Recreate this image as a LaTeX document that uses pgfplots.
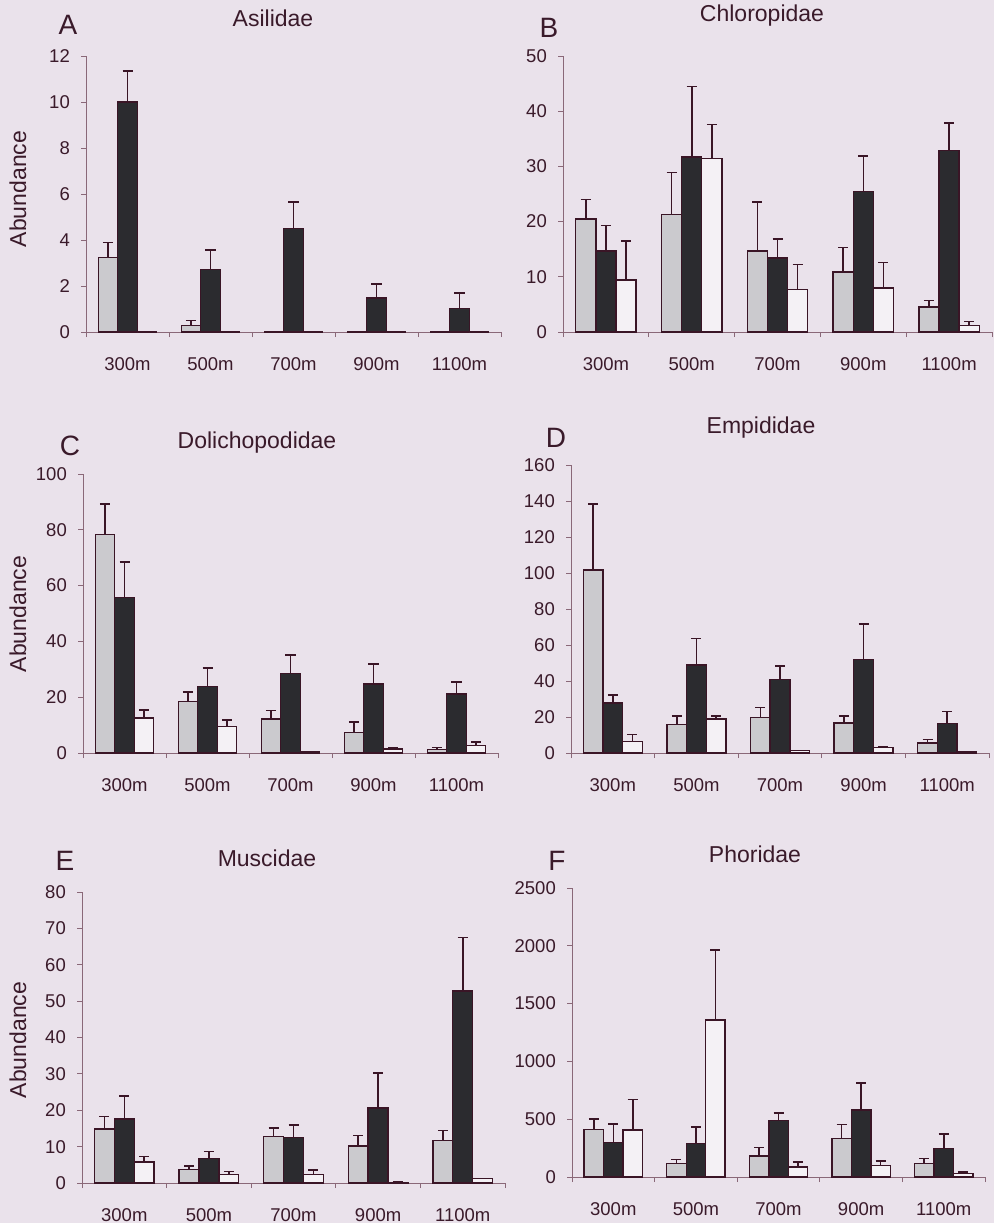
\documentclass[border=0pt]{standalone}
\usepackage{pgfplots}
\pgfplotsset{compat=1.18}
\usepackage{fontspec}
\setmainfont{Liberation Sans}
\definecolor{bgcol}{HTML}{EAE2EB}
\definecolor{txtcol}{HTML}{3A1A2A}
\definecolor{axcol}{HTML}{8A6878}
\definecolor{edgecol}{HTML}{3A1526}
\definecolor{greybar}{HTML}{CBCACE}
\definecolor{blackbar}{HTML}{2B2B2F}
\definecolor{whitebar}{HTML}{F4F1F5}
\newcommand{\tickfont}{\fontsize{18.5bp}{22bp}\selectfont}
\newcommand{\titlefont}{\fontsize{23bp}{27bp}\selectfont}
\newcommand{\letterfont}{\fontsize{28bp}{32bp}\selectfont}
\pgfplotsset{
  panel/.style={
    scale only axis,
    axis lines*=left,
    axis line style={draw=axcol, line width=0.9bp},
    xmin=-0.5, xmax=4.5, ymin=0,
    xtick={0,1,2,3,4},
    xticklabels={300m,500m,700m,900m,1100m},
    major x tick style={draw=none},
    minor xtick={-0.5,0.5,1.5,2.5,3.5,4.5},
    minor x tick style={draw=axcol, line width=0.9bp},
    major y tick style={draw=axcol, line width=0.9bp},
    tick align=outside,
    major tick length=5bp, minor tick length=5bp,
    tick label style={font=\tickfont, text=txtcol},
    /pgf/number format/assume math mode=true,
    /pgf/number format/1000 sep={},
    yticklabel style={inner sep=0pt, xshift=-11bp},
    xticklabel style={inner sep=0pt, yshift=-20bp},
    clip=false,
  },
  barbase/.style={ybar, bar width=0.235, bar shift=0, draw=edgecol, line width=1.4bp,
    error bars/.cd, y dir=plus, y explicit, error mark=|,
    error bar style={line width=1.6bp, draw=edgecol},
    error mark options={line width=1.6bp, draw=edgecol, mark size=5bp}},
  gbar/.style={fill=greybar, barbase},
  kbar/.style={fill=blackbar, barbase},
  wbar/.style={fill=whitebar, barbase},
}
\begin{document}
\begin{tikzpicture}
\fill[bgcol] (0,0) rectangle (994bp,-1223bp);

% ---------- A: Asilidae ----------
\begin{axis}[panel, at={(86bp,-332bp)}, anchor=south west, width=415bp, height=276bp,
  ymax=12, ytick={0,2,4,6,8,10,12}]
\addplot[gbar] coordinates {(-0.235,3.24) +- (0,0.66) (0.765,0.29) +- (0,0.21) (1.765,0.02) +- (0,0) (2.765,0.02) +- (0,0) (3.765,0.02) +- (0,0)};
\addplot[kbar] coordinates {(0,10.0) +- (0,1.36) (1,2.73) +- (0,0.84) (2,4.49) +- (0,1.17) (3,1.48) +- (0,0.62) (4,1.01) +- (0,0.68)};
\addplot[wbar] coordinates {(0.235,0) +- (0,0) (1.235,0) +- (0,0) (2.235,0) +- (0,0) (3.235,0) +- (0,0) (4.235,0) +- (0,0)};
\end{axis}

% ---------- B: Chloropidae ----------
\begin{axis}[panel, at={(563bp,-332bp)}, anchor=south west, width=429bp, height=276bp,
  ymax=50, ytick={0,10,20,30,40,50}]
\addplot[gbar] coordinates {(-0.235,20.5) +- (0,3.5) (0.765,21.3) +- (0,7.6) (1.765,14.7) +- (0,8.9) (2.765,10.9) +- (0,4.4) (3.765,4.5) +- (0,1.2)};
\addplot[kbar] coordinates {(0,14.7) +- (0,4.6) (1,31.7) +- (0,12.8) (2,13.4) +- (0,3.5) (3,25.5) +- (0,6.4) (4,32.9) +- (0,5.0)};
\addplot[wbar] coordinates {(0.235,9.4) +- (0,7.1) (1.235,31.4) +- (0,6.2) (2.235,7.7) +- (0,4.5) (3.235,8.0) +- (0,4.6) (4.235,1.2) +- (0,0.7)};
\end{axis}

% ---------- C: Dolichopodidae ----------
\begin{axis}[panel, at={(83bp,-753bp)}, anchor=south west, width=415bp, height=279bp,
  ymax=100, ytick={0,20,40,60,80,100}]
\addplot[gbar] coordinates {(-0.235,78.3) +- (0,11.0) (0.765,18.4) +- (0,3.4) (1.765,12.2) +- (0,3.0) (2.765,7.4) +- (0,3.8) (3.765,1.2) +- (0,0.8)};
\addplot[kbar] coordinates {(0,55.7) +- (0,12.8) (1,23.9) +- (0,6.5) (2,28.6) +- (0,6.5) (3,24.8) +- (0,7.1) (4,21.1) +- (0,4.3)};
\addplot[wbar] coordinates {(0.235,12.5) +- (0,3.0) (1.235,9.5) +- (0,2.4) (2.235,0.3) +- (0,0) (3.235,1.4) +- (0,0.4) (4.235,2.7) +- (0,1.2)};
\end{axis}

% ---------- D: Empididae ----------
\begin{axis}[panel, at={(571bp,-753bp)}, anchor=south west, width=418bp, height=288bp,
  ymax=160, ytick={0,20,40,60,80,100,120,140,160}]
\addplot[gbar] coordinates {(-0.235,101.6) +- (0,36.6) (0.765,15.7) +- (0,5.0) (1.765,19.8) +- (0,5.5) (2.765,16.6) +- (0,4.1) (3.765,5.5) +- (0,1.9)};
\addplot[kbar] coordinates {(0,27.7) +- (0,4.5) (1,49.0) +- (0,14.6) (2,40.7) +- (0,7.8) (3,52.0) +- (0,19.6) (4,16.3) +- (0,6.8)};
\addplot[wbar] coordinates {(0.235,6.5) +- (0,3.7) (1.235,18.9) +- (0,1.8) (2.235,1.5) +- (0,0) (3.235,3.0) +- (0,0.7) (4.235,0.9) +- (0,0)};
\end{axis}

% ---------- E: Muscidae ----------
\begin{axis}[panel, at={(82bp,-1183bp)}, anchor=south west, width=423bp, height=291bp,
  ymax=80, ytick={0,10,20,30,40,50,60,70,80}]
\addplot[gbar] coordinates {(-0.235,14.8) +- (0,3.5) (0.765,3.7) +- (0,0.9) (1.765,12.8) +- (0,2.3) (2.765,10.2) +- (0,2.9) (3.765,11.7) +- (0,2.7)};
\addplot[kbar] coordinates {(0,17.6) +- (0,6.4) (1,6.7) +- (0,2.0) (2,12.5) +- (0,3.5) (3,20.6) +- (0,9.7) (4,52.8) +- (0,14.7)};
\addplot[wbar] coordinates {(0.235,5.8) +- (0,1.5) (1.235,2.3) +- (0,0.9) (2.235,2.3) +- (0,1.2) (3.235,0.2) +- (0,0) (4.235,1.2) +- (0,0)};
\end{axis}

% ---------- F: Phoridae ----------
\begin{axis}[panel, at={(572bp,-1177bp)}, anchor=south west, width=413bp, height=289bp,
  ymax=2500, ytick={0,500,1000,1500,2000,2500}]
\addplot[gbar] coordinates {(-0.235,413) +- (0,87) (0.765,116) +- (0,37) (1.765,182) +- (0,75) (2.765,332) +- (0,122) (3.765,116) +- (0,43)};
\addplot[kbar] coordinates {(0,298) +- (0,159) (1,289) +- (0,145) (2,488) +- (0,67) (3,578) +- (0,237) (4,246) +- (0,124)};
\addplot[wbar] coordinates {(0.235,405) +- (0,266) (1.235,1358) +- (0,607) (2.235,87) +- (0,43) (3.235,101) +- (0,38) (4.235,29) +- (0,14)};
\end{axis}

% ---------- titles, letters, y labels ----------
\begin{scope}[every node/.style={text=txtcol, inner sep=0pt}]
\node[font=\titlefont] at (273bp,-18bp) {Asilidae};
\node[font=\titlefont] at (762bp,-16bp) {Chloropidae};
\node[font=\titlefont] at (257bp,-443bp) {Dolichopodidae};
\node[font=\titlefont] at (761bp,-428bp) {Empididae};
\node[font=\titlefont] at (267bp,-858bp) {Muscidae};
\node[font=\titlefont] at (755bp,-854bp) {Phoridae};
\node[font=\letterfont] at (68bp,-25bp) {A};
\node[font=\letterfont] at (549bp,-28bp) {B};
\node[font=\letterfont] at (70bp,-446bp) {C};
\node[font=\letterfont] at (556bp,-438bp) {D};
\node[font=\letterfont] at (65bp,-861bp) {E};
\node[font=\letterfont] at (557bp,-861bp) {F};
\node[font=\titlefont, rotate=90] at (18bp,-189bp) {Abundance};
\node[font=\titlefont, rotate=90] at (18bp,-614bp) {Abundance};
\node[font=\titlefont, rotate=90] at (18bp,-1040bp) {Abundance};
\end{scope}
\pgfresetboundingbox
\useasboundingbox (0,0) rectangle (994bp,-1223bp);
\end{tikzpicture}
\end{document}
